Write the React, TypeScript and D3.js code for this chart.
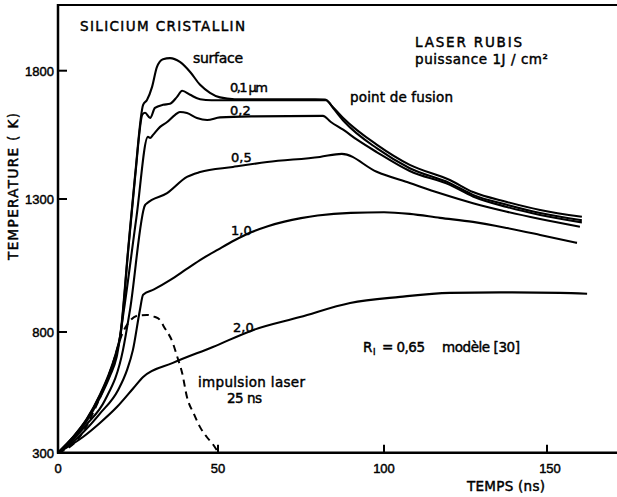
import React, { useEffect } from "react";
import * as d3 from "d3";

type P = [number, number];

const W = 617;
const H = 497;

// axis ticks
const xTicks = [0, 50, 100, 150];
const yTicks = [300, 800, 1300, 1800];
const xTickLabels = ["0", "50", "100", "150"];
const yTickLabels = ["300", "800", "1300", "1800"];

// series: [time (ns), temperature (K)]
const surface: P[] = [
  [0, 300], [4.7, 365], [9, 440], [13.1, 540], [16.3, 640], [18.3, 722], [19.4, 783],
  [21.9, 1109], [24.1, 1394], [26.6, 1667], [27.8, 1686], [29.4, 1737], [30.9, 1814],
  [32.8, 1845], [35, 1849], [38.1, 1834], [41.3, 1795], [44.4, 1745], [47.5, 1714],
  [50.6, 1696], [55, 1689], [82.2, 1688], [84.5, 1660], [87.7, 1616], [97.9, 1511],
  [107.9, 1433], [120.2, 1374], [127.3, 1327], [137.7, 1289], [147.9, 1259], [160.7, 1233],
];

const depth01: P[] = [
  [0, 300], [4.7, 364], [9, 438], [13.1, 537], [16.3, 634], [18.3, 716], [19.5, 783],
  [21.9, 1100], [24.1, 1385], [26.4, 1630], [27.2, 1636], [28.8, 1616], [30.3, 1655],
  [32.8, 1667], [35, 1671], [37.2, 1698], [38.8, 1722], [41.3, 1706], [44.4, 1689],
  [48, 1685], [82.6, 1685], [84.8, 1652], [88, 1602], [97.9, 1497], [107.9, 1420],
  [120.2, 1362], [127.3, 1316], [137.7, 1278], [147.9, 1247], [160.7, 1220],
];

const depth02: P[] = [
  [0, 300], [4.7, 362], [9, 432], [13.1, 527], [16.3, 620], [18.3, 695], [20.6, 883],
  [24.5, 1230], [28.1, 1542], [28.8, 1538], [29.7, 1550], [31.9, 1581], [34.1, 1600],
  [36.6, 1628], [38.1, 1639], [40.3, 1635], [43.4, 1616], [46.6, 1608], [50.6, 1618],
  [60, 1622], [81.6, 1624], [84, 1600], [87.7, 1570], [92, 1530], [97.9, 1482],
  [107.9, 1409], [120.2, 1355], [127.3, 1310], [137.7, 1270], [147.9, 1240], [160.7, 1212],
];

const depth05: P[] = [
  [0, 300], [4.7, 355], [9, 418], [14.7, 518], [20.3, 725], [22.5, 883], [27.2, 1277],
  [27.8, 1284], [34.1, 1323], [40.3, 1386], [44.4, 1405], [54.5, 1425], [64.8, 1444],
  [80.7, 1464], [87.3, 1476], [97.8, 1406], [107.9, 1362], [117.2, 1322], [127.3, 1284],
  [137.7, 1252], [147.9, 1225], [160.1, 1196],
];

const depth10: P[] = [
  [0, 300], [4.7, 345], [9, 400], [13.1, 462], [18.8, 560], [21.5, 640], [23.4, 725],
  [25.6, 883], [26.6, 940], [30, 960], [35, 995], [40, 1035], [45, 1075], [50, 1110],
  [55, 1145], [60, 1175], [65, 1198], [70, 1215], [75, 1228], [80, 1238], [90, 1248],
  [100, 1250], [107.9, 1244], [117.2, 1229], [127.3, 1214], [137.7, 1191],
  [147.9, 1165], [159.2, 1135],
];

const depth20: P[] = [
  [0, 300], [7.8, 365], [13.1, 423], [18.4, 489], [23.4, 565], [26.6, 614], [35.9, 672],
  [48.4, 738], [60.5, 807], [74.7, 856], [89.8, 909], [104.9, 932], [120.2, 947],
  [135.6, 949], [154, 947], [162.3, 944],
];

const laserPulse: P[] = [
  [0, 300], [3, 318], [6, 352], [8.5, 400], [10.9, 464], [14.1, 560], [17.2, 672],
  [20, 790], [22.5, 842], [25, 862], [27.8, 864], [30, 858], [31.9, 845], [33, 822],
  [35.9, 754], [37.2, 700], [38.8, 630], [40.3, 531], [42.5, 460], [44.4, 406],
  [46.5, 365], [48.4, 335], [50, 303],
];

const solidSeries = [surface, depth01, depth02, depth05, depth10, depth20];

const FONT = "'DejaVu Sans', sans-serif";
const NUMFONT = "'Liberation Sans', Arial, sans-serif";

function Label(props: {
  x: number;
  y: number;
  size?: number;
  len?: number;
  children: React.ReactNode;
  anchor?: string;
  family?: string;
}) {
  const { x, y, size = 13.5, len, children, anchor = "start", family = FONT } = props;
  return (
    <text
      x={x}
      y={y}
      fontSize={size}
      fontFamily={family}
      textAnchor={anchor}
      fill="#000"
      stroke="#000"
      strokeWidth={0.45}
      {...(len ? { textLength: len, lengthAdjust: "spacing" } : {})}
    >
      {children}
    </text>
  );
}

export default function App() {
  useEffect(() => {
    document.body.style.margin = "0";
  }, []);

  const x = d3.scaleLinear().domain(xTicks).range([58, 218, 384, 547]);
  const y = d3.scaleLinear().domain(yTicks).range([452.7, 332, 199, 70.7]);

  const line = d3
    .line<P>()
    .x((d) => x(d[0]))
    .y((d) => y(d[1]))
    .curve(d3.curveMonotoneX);

  const x0 = x(0);
  const yBase = y(300);

  return (
    <svg
      width={W}
      height={H}
      viewBox={`0 0 ${W} ${H}`}
      style={{ position: "absolute", left: 0, top: 0, background: "#fff", display: "block" }}
    >
      <rect x={0} y={0} width={W} height={H} fill="#fff" />

      {/* frame */}
      <line x1={x0} y1={5} x2={W} y2={5} stroke="#000" strokeWidth={2} />
      <line x1={x0} y1={4} x2={x0} y2={yBase + 1} stroke="#000" strokeWidth={2.5} />
      <line x1={x0 - 1} y1={yBase} x2={W} y2={yBase} stroke="#000" strokeWidth={2.5} />

      {/* y ticks */}
      {yTicks.slice(1).map((t) => (
        <line key={"yt" + t} x1={x0} x2={x0 + 9} y1={y(t)} y2={y(t)} stroke="#000" strokeWidth={2} />
      ))}
      {yTicks.map((t, i) => (
        <Label key={"yl" + t} x={54} y={y(t) + 5} size={13} anchor="end" family={NUMFONT}>
          {yTickLabels[i]}
        </Label>
      ))}

      {/* x ticks */}
      {xTicks.slice(1).map((t) => (
        <line key={"xt" + t} x1={x(t)} x2={x(t)} y1={yBase} y2={yBase - 8} stroke="#000" strokeWidth={2} />
      ))}
      {xTicks.map((t, i) => (
        <Label key={"xl" + t} x={x(t) + (t === 150 ? 3 : 0)} y={473} size={13} anchor="middle" family={NUMFONT}>
          {xTickLabels[i]}
        </Label>
      ))}

      {/* curves */}
      {solidSeries.map((s, i) => (
        <path key={"s" + i} d={line(s) || ""} fill="none" stroke="#000" strokeWidth={2.1} strokeLinejoin="round" />
      ))}
      <path d={line(laserPulse) || ""} fill="none" stroke="#000" strokeWidth={2} strokeDasharray="7,5" />

      {/* annotations */}
      <Label x={80} y={30.7} len={165}>SILICIUM CRISTALLIN</Label>
      <Label x={193} y={63} size={14} len={50}>surface</Label>
      <Label x={230} y={92} size={13} len={38}>0,1 µm</Label>
      <Label x={230} y={115} size={13}>0,2</Label>
      <Label x={231} y={162} size={13}>0,5</Label>
      <Label x={231} y={235} size={13}>1,0</Label>
      <Label x={233} y={332} size={13}>2,0</Label>
      <Label x={198} y={387} len={107}>impulsion laser</Label>
      <Label x={227} y={403} len={35}>25 ns</Label>
      <Label x={415} y={46.7} len={107}>LASER RUBIS</Label>
      <Label x={415} y={64} len={133}>puissance 1J / cm²</Label>
      <Label x={350} y={102} len={103}>point de fusion</Label>
      <Label x={363} y={352}>R</Label>
      <Label x={373} y={355} size={9}>l</Label>
      <Label x={382} y={352} len={43}>= 0,65</Label>
      <Label x={442} y={352} len={78}>modèle [30]</Label>
      <Label x={467} y={491} len={78}>TEMPS (ns)</Label>
      <text
        transform="translate(18,186.5) rotate(-90)"
        fontSize={13.5}
        fontFamily={FONT}
        textAnchor="middle"
        textLength={147}
        lengthAdjust="spacing"
        fill="#000"
        stroke="#000"
        strokeWidth={0.45}
      >
        TEMPERATURE ( K)
      </text>
    </svg>
  );
}
